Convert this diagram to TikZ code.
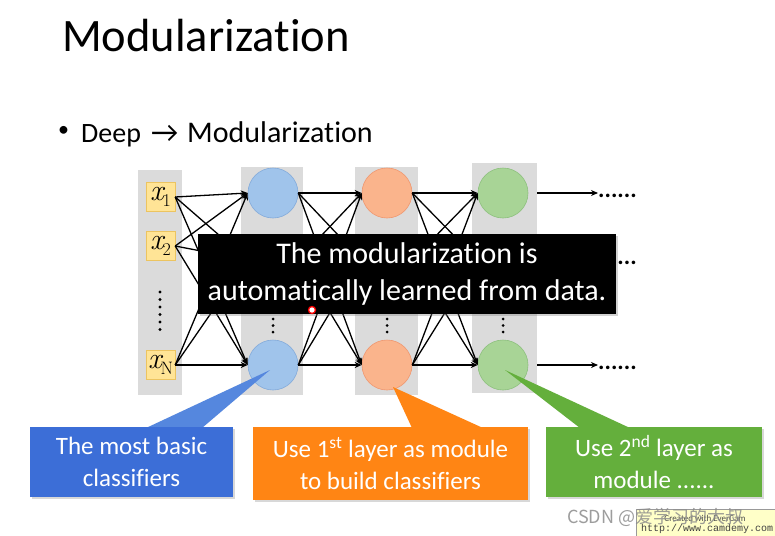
\documentclass[tikz,border=0pt]{standalone}
\usepackage{fontspec}
\setmainfont{Carlito}[Ligatures={NoCommon}]
\newfontfamily\cjkfont{Noto Sans CJK SC}
\newfontfamily\wmmono{Liberation Mono}
\newfontfamily\lmfont{Latin Modern Roman}
\newcommand{\inpx}[1]{{\lmfont\itshape x}\kern-1pt\raisebox{-6pt}{\lmfont\fontsize{18}{20}\selectfont #1}}
\usetikzlibrary{arrows.meta,shadows}
\definecolor{colgray}{RGB}{219,219,219}
\definecolor{inpfill}{RGB}{255,228,150}
\definecolor{inpborder}{RGB}{236,196,96}
\definecolor{bluefill}{RGB}{160,196,235}
\definecolor{blueline}{RGB}{130,170,218}
\definecolor{orangefill}{RGB}{250,180,140}
\definecolor{orangeline}{RGB}{240,150,110}
\definecolor{greenfill}{RGB}{168,212,150}
\definecolor{greenline}{RGB}{140,192,125}
\definecolor{bluebox}{RGB}{60,110,215}
\definecolor{bluetip}{RGB}{85,135,222}
\definecolor{orangebox}{RGB}{255,133,20}
\definecolor{greenbox}{RGB}{100,175,60}
\definecolor{wmyellow}{RGB}{255,255,200}
\tikzset{
  inp/.style={draw=inpborder, fill=inpfill, minimum width=29pt, minimum height=29pt, inner sep=0pt, font=\fontsize{30}{32}\selectfont},
  neu/.style={circle, minimum size=50pt, inner sep=0pt, line width=0.6pt},
  edge/.style={-{Stealth[length=7pt,width=6pt]}, line width=1.3pt},
  dotsnode/.style={anchor=west, inner sep=0pt, font=\bfseries\fontsize{24}{28}\selectfont},
  cbox/.style={text=white, align=center, inner sep=0pt, font=\fontsize{25}{32}\selectfont,
    drop shadow={opacity=0.3, shadow xshift=2pt, shadow yshift=-2pt}},
  bul/.style={anchor=base west, inner sep=0pt, font=\fontsize{30}{34}\selectfont},
}
\begin{document}
\begin{tikzpicture}[x=1pt,y=-1pt]
\useasboundingbox[fill=white] (0,0) rectangle (775,535);
% title and bullet
\node[anchor=base west, inner sep=0pt] (title) at (62,52) {\fontsize{46.5}{50}\selectfont Modularization};
\node[inner sep=0pt, font=\fontsize{22}{24}\selectfont] (bdot) at (63.5,131) {\textbullet};
\node[bul, font=\fontsize{28}{32}\selectfont] (deep) at (81,142) {Deep};
\node[bul] (arr) at (151,142) {→};
\node[bul] (modu) at (187,142) {Modularization};
% gray columns
\fill[colgray] (138,170) rectangle (182,395);
\fill[colgray] (241,167) rectangle (303,395);
\fill[colgray] (355,167) rectangle (418,395);
\fill[colgray] (472,163) rectangle (537,393);
% inputs
\node[inp] (x1) at (160.5,197) {\inpx{1}};
\node[inp] (x2) at (160.5,246) {\inpx{2}};
\node[inp] (xN) at (160.5,365) {\inpx{N}};
% neurons
\foreach \n/\y in {1/193,2/260,3/365}{
  \node[neu, fill=bluefill, draw=blueline] (a\n) at (273,\y) {};
  \node[neu, fill=orangefill, draw=orangeline] (b\n) at (387,\y) {};
  \node[neu, fill=greenfill, draw=greenline] (c\n) at (503,\y) {};
}
% edges
\foreach \s in {x1,x2,xN}{\foreach \t in {a1,a2,a3}{\draw[edge] (\s.east) -- (\t.west);}}
\foreach \s in {a1,a2,a3}{\foreach \t in {b1,b2,b3}{\draw[edge] (\s.east) -- (\t.west);}}
\foreach \s in {b1,b2,b3}{\foreach \t in {c1,c2,c3}{\draw[edge] (\s.east) -- (\t.west);}}
% outputs
\node[dotsnode] (r1) at (598,196) {......};
\node[dotsnode] (r2) at (598,263) {......};
\node[dotsnode] (r3) at (598,368) {......};
\draw[edge] ([xshift=9pt]c1.east) -- (r1.west |- c1.east);
\draw[edge] ([xshift=9pt]c2.east) -- (r2.west |- c2.east);
\draw[edge] ([xshift=9pt]c3.east) -- (r3.west |- c3.east);
% vertical dots
\foreach \y in {292,299.5,...,330}{\fill (160,\y) circle (1.6pt);}
\foreach \x in {273,387,503}{\foreach \y in {319,325.5,332}{\fill (\x,\y) circle (1.5pt);}}
% message box
\node[fill=black, minimum width=418pt, minimum height=80pt, inner sep=0pt, text=white, align=center,
  font=\fontsize{30}{37}\selectfont, drop shadow={opacity=0.35, shadow xshift=2pt, shadow yshift=-2pt}] (msg) at (407,274)
  {The modularization is\\automatically learned from data.};
% cursor mark
\draw[red, line width=1.3pt, fill=white] (312,310) circle (3.5pt);
% callout pointers
\fill[bluetip] (270,370) -- (146,428) -- (202,428) -- cycle;
\fill[orangebox] (393,387) -- (412,428) -- (483,428) -- cycle;
\fill[greenbox] (505,370) -- (580,428) -- (630,428) -- cycle;
% callout boxes
\node[cbox, fill=bluebox, minimum width=203pt, minimum height=70pt] (cb1) at (131.5,462) {The most basic\\classifiers};
\node[cbox, fill=orangebox, minimum width=275pt, minimum height=73pt] (cb2) at (390.5,463.5) {Use 1\textsuperscript{st} layer as module\\to build classifiers};
\node[cbox, fill=greenbox, minimum width=216pt, minimum height=70pt] (cb3) at (654,462) {Use 2\textsuperscript{nd} layer as\\module ......};
% watermark
\node[fill=wmyellow, draw=black!40, minimum width=145pt, minimum height=27pt, anchor=north west, inner sep=0pt] (wm) at (636,509) {};
\node[inner sep=0pt, font=\fontsize{9}{10}\selectfont, text=black!70] (wm1) at (705,518) {Created with EverCam};
\node[inner sep=0pt, font=\wmmono\fontsize{10}{12}\selectfont, text=black!75] (wm2) at (707,529) {http://www.camdemy.com};
\node[inner sep=0pt, anchor=west, font=\cjkfont\fontsize{18}{20}\selectfont, text=black!45, opacity=0.85] (csdn) at (567,517) {CSDN @爱学习的大叔};
\end{tikzpicture}
\end{document}
